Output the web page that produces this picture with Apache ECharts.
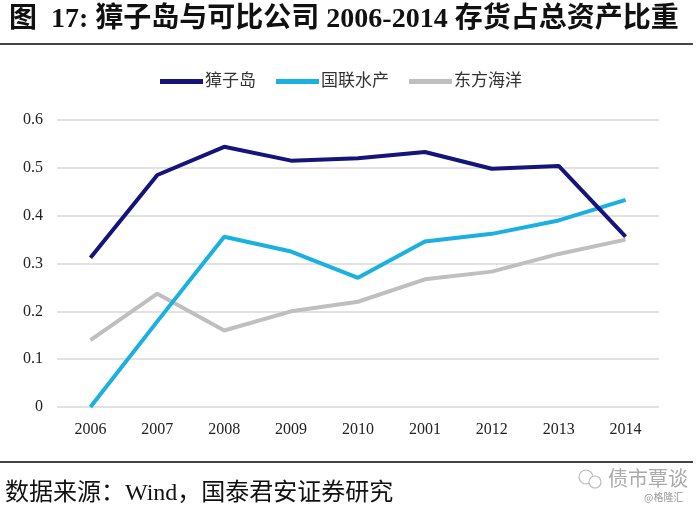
<!DOCTYPE html>
<html><head><meta charset="utf-8">
<script src="https://cdn.jsdelivr.net/npm/echarts@6/dist/echarts.min.js"></script>
<style>html,body{margin:0;padding:0;background:#fff}#c{width:700px;height:507px}</style>
</head><body><div id="c"></div>
<script>
const categories = ['2006','2007','2008','2009','2010','2001','2012','2013','2014'];
const zhangzidao = [0.312, 0.485, 0.544, 0.515, 0.520, 0.533, 0.498, 0.504, 0.356];
const guolian = [0.0, 0.179, 0.356, 0.325, 0.270, 0.346, 0.362, 0.390, 0.433];
const dongfang = [0.140, 0.237, 0.160, 0.200, 0.220, 0.267, 0.283, 0.320, 0.350];
const yTicks = [0, 0.1, 0.2, 0.3, 0.4, 0.5, 0.6];

const serif = '"Liberation Serif", "Noto Sans CJK SC", serif';
const chart = echarts.init(document.getElementById('c'));
chart.setOption({
  animation: false,
  backgroundColor: '#fff',
  title: {
    text: '图  17: 獐子岛与可比公司 2006-2014 存货占总资产比重',
    left: 4, top: 1,
    textStyle: {fontFamily: serif, fontSize: 28, fontWeight: 'bold', color: '#111'}
  },
  legend: {
    top: 68, left: 155,
    itemWidth: 43, itemHeight: 5, itemGap: 20,
    icon: 'rect',
    textStyle: {fontFamily: serif, fontSize: 17, color: '#333', padding: [0,0,0,-3]},
    data: ['獐子岛','国联水产','东方海洋']
  },
  grid: {left: 57, right: 41, top: 120, bottom: 100, containLabel: false},
  xAxis: {
    type: 'category', data: categories, boundaryGap: true,
    axisLine: {show: false}, axisTick: {show: false},
    axisLabel: {fontFamily: serif, fontSize: 16, color: '#222', margin: 15}
  },
  yAxis: {
    type: 'value', min: 0, max: 0.6, interval: 0.1,
    axisLine: {show: false}, axisTick: {show: false},
    splitLine: {lineStyle: {color: '#d9d9d9', width: 1.5}},
    axisLabel: {fontFamily: serif, fontSize: 16, color: '#222', margin: 14,
      formatter: v => { const t = yTicks.find(x => Math.abs(x - v) < 1e-9); return t === 0 ? '0' : String(+v.toFixed(1)); }}
  },
  series: [
    {name: '獐子岛', type: 'line', data: zhangzidao, symbol: 'none', z: 3,
     lineStyle: {color: '#14147a', width: 4}, itemStyle: {color: '#14147a'}},
    {name: '国联水产', type: 'line', data: guolian, symbol: 'none', z: 2,
     lineStyle: {color: '#1ab0e0', width: 4}, itemStyle: {color: '#1ab0e0'}},
    {name: '东方海洋', type: 'line', data: dongfang, symbol: 'none', z: 1,
     lineStyle: {color: '#bfbfbf', width: 4}, itemStyle: {color: '#bfbfbf'}}
  ],
  graphic: [
    {type: 'rect', shape: {x: 0, y: 43, width: 693, height: 2}, style: {fill: '#444'}},
    {type: 'rect', shape: {x: 0, y: 461, width: 693, height: 2}, style: {fill: '#444'}},
    {type: 'text', left: 5, top: 482, style: {text: '数据来源：Wind，国泰君安证券研究', font: '24px ' + serif, fill: '#111'}},
    {type: 'circle', shape: {cx: 586, cy: 477, r: 7}, style: {fill: 'none', stroke: '#bbb', lineWidth: 1.2}},
    {type: 'circle', shape: {cx: 595, cy: 482, r: 6}, style: {fill: '#fff', stroke: '#bbb', lineWidth: 1.2}},
    {type: 'text', left: 608, top: 468, style: {text: '债市覃谈', font: '20px "Noto Sans CJK SC"', fill: '#aaa'}},
    {type: 'text', left: 644, top: 492, style: {text: '@格隆汇', font: '10px "Noto Sans CJK SC"', fill: '#999'}}
  ]
});
</script></body></html>
